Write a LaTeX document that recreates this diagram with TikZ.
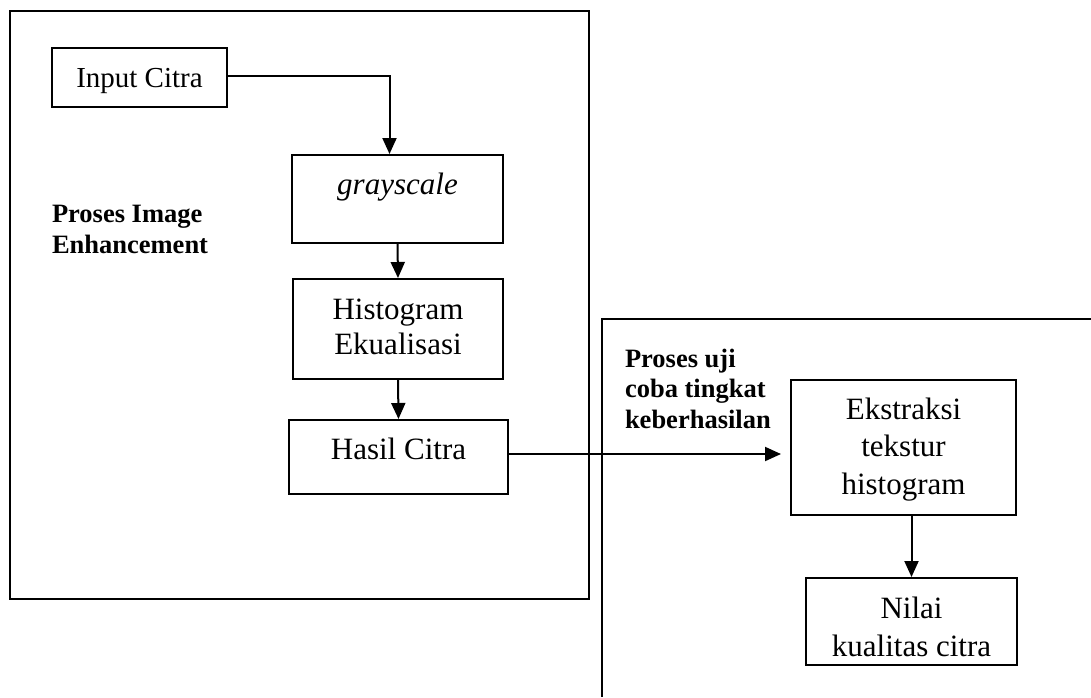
\documentclass[tikz,border=0pt]{standalone}
\usepackage{fontspec}
\setmainfont{Liberation Serif}
\usetikzlibrary{arrows.meta,positioning}

\begin{document}
\begin{tikzpicture}[x=1pt, y=-1pt, line width=2pt,
    blok/.style={draw, align=center, inner sep=0pt, anchor=north west, font=\fontsize{31}{37}\selectfont},
    panah/.style={-{Triangle[length=16pt,width=14pt]}},
    judul/.style={anchor=base west, align=left, inner sep=0pt, font=\fontsize{26.5}{30.5}\selectfont\bfseries}]
    \useasboundingbox (0,0) rectangle (1091,697);
    % Frames:
    \draw (10,11) rectangle (589,599);
    \draw (602,697) |- (1091,319);
    \node[judul] (lblEnh) at (51,253) {Proses Image\\Enhancement};
    \node[judul] (lblUji) at (624,428) {Proses uji\\coba tingkat\\keberhasilan};
    % Blocks:
    \node[blok, minimum width=175pt, text height=39pt, text depth=20pt, font=\fontsize{29}{37}\selectfont] (input) at (51,47) {Input Citra};
    \node[blok, minimum width=211pt, text height=39pt, text depth=49pt] (gray) at (291,154) {\itshape grayscale};
    \node[blok, minimum width=210pt, text height=75pt, text depth=25pt, font=\fontsize{31}{35}\selectfont] (hist) at (292,278) {Histogram\\Ekualisasi};
    \node[blok, minimum width=219pt, text height=39pt, text depth=35pt] (hasil) at (288,419) {Hasil Citra};
    \node[blok, minimum width=225pt, text height=114pt, text depth=21pt, font=\fontsize{31}{37.5}\selectfont] (ekstr) at (790,379) {Ekstraksi\\tekstur\\histogram};
    \node[blok, minimum width=211pt, text height=78pt, text depth=9pt, font=\fontsize{31}{38}\selectfont] (nilai) at (805,577) {Nilai\\kualitas citra};
    % Wires:
    \draw[panah] ([yshift=1.5pt]input.east) -| ([xshift=-8pt]gray.north);
    \draw[panah] (gray.south) -- (hist.north);
    \draw[panah] (hist.south) -- (hasil.north);
    \draw[panah, shorten >=9pt] ([yshift=3pt]hasil.east) -- ([yshift=3pt]hasil.east -| ekstr.west);
    \draw[panah] (ekstr.south -| nilai.north) -- (nilai.north);
\end{tikzpicture}
\end{document}
